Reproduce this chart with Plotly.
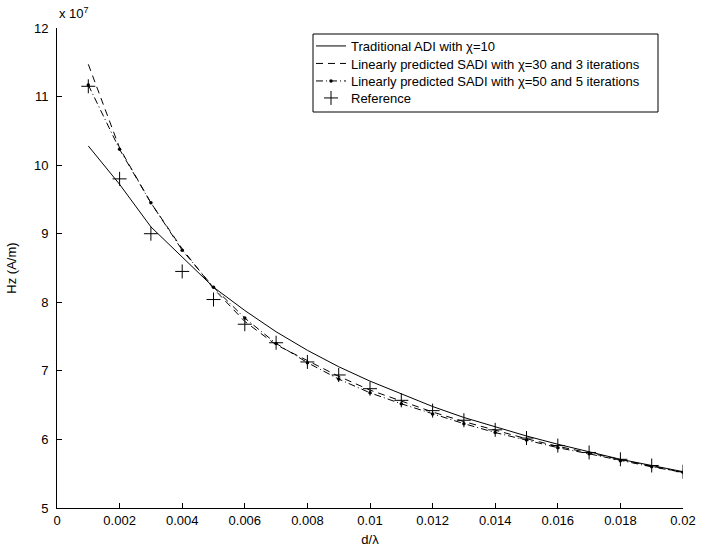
import plotly.graph_objects as go

# d/lambda sample points
d_over_lambda = [0.001, 0.002, 0.003, 0.004, 0.005, 0.006, 0.007, 0.008, 0.009, 0.010,
                 0.011, 0.012, 0.013, 0.014, 0.015, 0.016, 0.017, 0.018, 0.019, 0.020]

# Hz in units of 1e7 A/m
hz_adi_chi10 = [10.28, 9.72, 9.10, 8.66, 8.22, 7.88, 7.57, 7.30, 7.06, 6.85,
                6.66, 6.48, 6.32, 6.18, 6.05, 5.93, 5.82, 5.71, 5.62, 5.53]
hz_sadi_chi30 = [11.47, 10.25, 9.45, 8.78, 8.20, 7.72, 7.38, 7.15, 6.92, 6.72,
                 6.56, 6.40, 6.26, 6.13, 6.01, 5.90, 5.80, 5.70, 5.61, 5.52]
hz_sadi_chi50 = [11.17, 10.23, 9.45, 8.76, 8.22, 7.77, 7.40, 7.12, 6.88, 6.68,
                 6.52, 6.37, 6.23, 6.10, 5.99, 5.88, 5.79, 5.69, 5.60, 5.52]
hz_reference = [11.15, 9.80, 9.00, 8.45, 8.04, 7.68, 7.41, 7.13, 6.94, 6.74,
                6.57, 6.42, 6.28, 6.14, 6.02, 5.91, 5.81, 5.71, 5.62, 5.53]

x_ticks = [0, 0.002, 0.004, 0.006, 0.008, 0.01, 0.012, 0.014, 0.016, 0.018, 0.02]
x_tick_text = ["0", "0.002", "0.004", "0.006", "0.008", "0.01", "0.012", "0.014",
               "0.016", "0.018", "0.02"]
y_ticks = [5, 6, 7, 8, 9, 10, 11, 12]

FONT = "Liberation Sans, Arial, Helvetica, sans-serif"

# figure geometry (pixels)
W, H = 706, 553
ML, MR, MT, MB = 57, 23, 28, 45
PW, PH = W - ML - MR, H - MT - MB


def px_x(p):
    return (p - ML) / PW


def px_y(p):
    return (H - MB - p) / PH


fig = go.Figure()
fig.add_trace(go.Scatter(
    x=d_over_lambda, y=hz_adi_chi10, mode="lines",
    name="Traditional ADI with \u03c7=10", legend="legend",
    line=dict(color="black", width=1),
))
fig.add_trace(go.Scatter(
    x=d_over_lambda, y=hz_sadi_chi30, mode="lines",
    name="Linearly predicted SADI with \u03c7=30 and 3 iterations", legend="legend2",
    line=dict(color="black", width=1, dash="7px,5px"),
))
fig.add_trace(go.Scatter(
    x=d_over_lambda, y=hz_sadi_chi50, mode="lines+markers",
    name="Linearly predicted SADI with \u03c7=50 and 5 iterations", legend="legend3",
    line=dict(color="black", width=1, dash="7px,3px,1px,3px"),
    marker=dict(symbol="circle", size=3.5, color="black"),
))
fig.add_trace(go.Scatter(
    x=d_over_lambda, y=hz_reference, mode="markers",
    name="Reference", legend="legend4",
    marker=dict(symbol="cross-thin", size=10, color="black",
                line=dict(color="black", width=1)),
))

axis_common = dict(
    showgrid=False, zeroline=False, showline=True, linecolor="black", linewidth=1,
    ticks="inside", ticklen=5, tickcolor="black", tickwidth=1,
    tickfont=dict(family=FONT, size=13, color="black"),
    mirror=False, automargin=False,
)


def legend_row(center_px):
    return dict(x=px_x(311), y=px_y(center_px), xanchor="left", yanchor="middle",
                bgcolor="rgba(0,0,0,0)", borderwidth=0,
                font=dict(family=FONT, size=13, color="black"))


fig.update_layout(
    width=W, height=H,
    margin=dict(l=ML, r=MR, t=MT, b=MB, autoexpand=False),
    paper_bgcolor="white", plot_bgcolor="white",
    font=dict(family=FONT, size=13, color="black"),
    xaxis=dict(range=[0, 0.02], tickvals=x_ticks, ticktext=x_tick_text,
               title=dict(text="d/\u03bb", standoff=8, font=dict(size=13)),
               **axis_common),
    yaxis=dict(range=[5, 12], tickvals=y_ticks, ticklabelstandoff=5,
               title=dict(text="Hz (A/m)", standoff=14, font=dict(size=13)),
               **axis_common),
    legend=legend_row(46),
    legend2=legend_row(63.5),
    legend3=legend_row(81),
    legend4=legend_row(98),
    showlegend=True,
)

# legend frame
fig.add_shape(type="rect", xref="paper", yref="paper",
              x0=px_x(313), x1=px_x(658), y0=px_y(112), y1=px_y(34),
              line=dict(color="black", width=1), fillcolor="white", layer="below")

fig.add_annotation(
    text="x 10<sup>7</sup>", xref="paper", yref="paper", x=0, y=1,
    xanchor="left", yanchor="bottom", showarrow=False, yshift=5,
    font=dict(family=FONT, size=13, color="black"),
)

fig.write_html("out.html")
